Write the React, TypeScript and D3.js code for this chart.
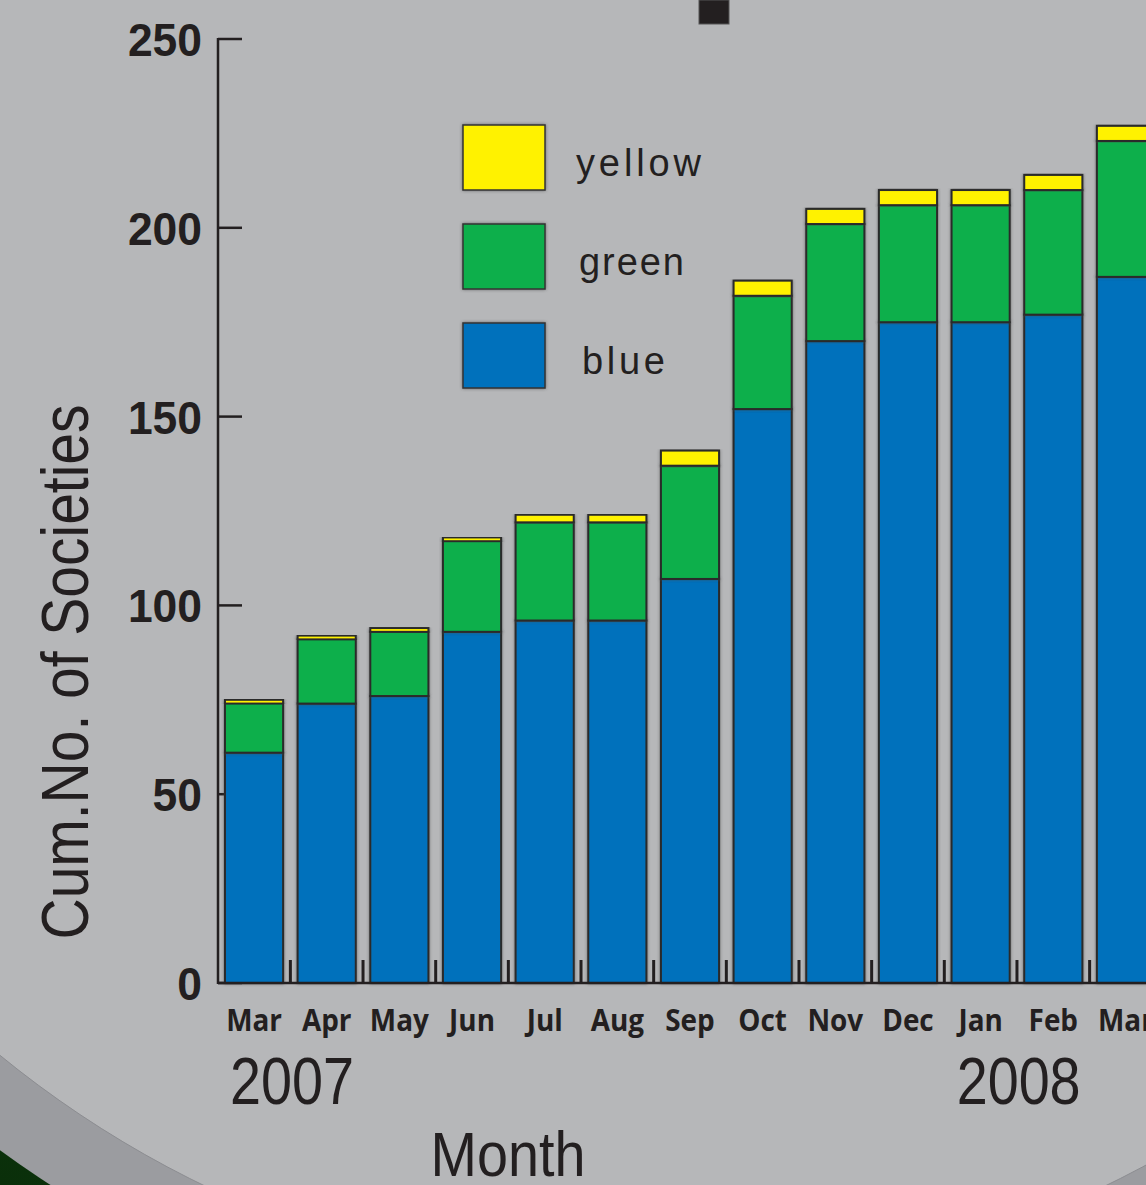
import React from "react";
import * as d3 from "d3";

// data
const months = ["Mar", "Apr", "May", "Jun", "Jul", "Aug", "Sep", "Oct", "Nov", "Dec", "Jan", "Feb", "Mar"];
const blueValues = [61, 74, 76, 93, 96, 96, 107, 152, 170, 175, 175, 177, 187];
const greenValues = [13, 17, 17, 24, 26, 26, 30, 30, 31, 31, 31, 33, 36];
const yellowValues = [1, 1, 1, 1, 2, 2, 4, 4, 4, 4, 4, 4, 4];
const seriesKeys = ["blue", "green", "yellow"];
const legendOrder = ["yellow", "green", "blue"];
const yTicks = [0, 50, 100, 150, 200, 250];
const yearLabels = [
    { label: "2007", index: 0 },
    { label: "2008", index: 10 },
];

const colors: Record<string, string> = {
    blue: "#0071bc",
    green: "#0daf4b",
    yellow: "#fff200",
};

const W = 1146;
const H = 1185;

const App = () => {
    const rows = months.map((m, i) => ({
        key: String(i),
        month: m,
        blue: blueValues[i],
        green: greenValues[i],
        yellow: yellowValues[i],
    }));

    const stacked = d3.stack<any>().keys(seriesKeys)(rows);

    const axisX = 218;
    const x = d3
        .scaleBand<string>()
        .domain(rows.map((r) => r.key))
        .range([axisX, 1162])
        .paddingInner(0.2)
        .paddingOuter(0.096);
    const y = d3.scaleLinear().domain([0, 250]).range([983, 39]);

    const bw = x.bandwidth();
    const gap = x.step() - bw;

    // circle used for the background decoration
    const cx = 655;
    const cy = 254;

    return (
        <svg
            width={W}
            height={H}
            style={{ position: "absolute", left: 0, top: 0, display: "block" }}
        >
            <defs>
                <filter id="halo" x="-10%" y="-10%" width="120%" height="120%">
                    <feDropShadow dx="0" dy="0" stdDeviation="1.4" floodColor="#444" floodOpacity="0.7" />
                </filter>
                <radialGradient id="greenCorner" cx="0" cy="1" r="1">
                    <stop offset="0" stopColor="#0a2f0a" />
                    <stop offset="1" stopColor="#145a18" />
                </radialGradient>
            </defs>

            {/* background */}
            <rect width={W} height={H} fill="url(#greenCorner)" />
            <circle cx={cx} cy={cy} r={1110} fill="#9b9ca0" />
            <circle cx={cx} cy={cy} r={1035} fill="#b6b7b9" stroke="#8c8d91" strokeWidth={1} />
            <rect x={699} y={0} width={30} height={24} fill="#231f20" stroke="#555" strokeWidth={1} />

            {/* y ticks (under the bars) */}
            {yTicks.map((t) => (
                <line
                    key={"yt" + t}
                    x1={axisX}
                    x2={axisX + 24}
                    y1={y(t)}
                    y2={y(t)}
                    stroke="#231f20"
                    strokeWidth={2.5}
                />
            ))}

            {/* bars */}
            {stacked.map((s) => (
                <g key={s.key} fill={colors[s.key]}>
                    {s.map((d, i) => (
                        <rect
                            key={i}
                            x={x(rows[i].key)}
                            y={y(d[1])}
                            width={bw}
                            height={y(d[0]) - y(d[1])}
                            stroke="#2b2b2b"
                            strokeWidth={2}
                            filter="url(#halo)"
                        />
                    ))}
                </g>
            ))}

            {/* small ticks between bars */}
            {rows.slice(1).map((r) => (
                <line
                    key={"bt" + r.key}
                    x1={(x(r.key) as number) - gap / 2}
                    x2={(x(r.key) as number) - gap / 2}
                    y1={960}
                    y2={983}
                    stroke="#231f20"
                    strokeWidth={3}
                />
            ))}

            {/* axes */}
            <line x1={axisX} x2={axisX} y1={y(250) - 1} y2={y(0) + 1} stroke="#231f20" strokeWidth={2.5} />
            <line x1={axisX} x2={W} y1={y(0)} y2={y(0)} stroke="#231f20" strokeWidth={2.5} />

            {/* y tick labels */}
            {yTicks.map((t) => {
                const label = String(t);
                return (
                    <text
                        key={"yl" + t}
                        x={202}
                        y={y(t) + 17}
                        textAnchor="end"
                        fontFamily="'Liberation Sans', Arial, sans-serif"
                        fontWeight="bold"
                        fontSize={47}
                        fill="#231f20"
                        textLength={label.length * 24.7}
                        lengthAdjust="spacingAndGlyphs"
                    >
                        {label}
                    </text>
                );
            })}

            {/* month labels */}
            {rows.map((r) => (
                <text
                    key={"ml" + r.key}
                    transform={`translate(${(x(r.key) as number) + bw / 2},1031) scale(0.9,1)`}
                    textAnchor="middle"
                    fontFamily="'Open Sans', sans-serif"
                    fontWeight="bold"
                    fontSize={31}
                    fill="#231f20"
                >
                    {r.month}
                </text>
            ))}

            {/* years */}
            {yearLabels.map((yl) => (
                <text
                    key={yl.label}
                    x={(x(String(yl.index)) as number) + bw / 2 + 38}
                    y={1104}
                    textAnchor="middle"
                    fontFamily="'Liberation Sans', Arial, sans-serif"
                    fontSize={66}
                    fill="#231f20"
                    textLength={124}
                    lengthAdjust="spacingAndGlyphs"
                >
                    {yl.label}
                </text>
            ))}

            {/* axis titles */}
            <text
                x={508}
                y={1176}
                textAnchor="middle"
                fontFamily="'Liberation Sans', Arial, sans-serif"
                fontSize={63}
                fill="#231f20"
                textLength={155}
                lengthAdjust="spacingAndGlyphs"
            >
                Month
            </text>
            <text
                transform="translate(88,672) rotate(-90)"
                textAnchor="middle"
                fontFamily="'Liberation Sans', Arial, sans-serif"
                fontSize={66}
                fill="#231f20"
                textLength={535}
                lengthAdjust="spacingAndGlyphs"
            >
                Cum.No. of Societies
            </text>

            {/* legend */}
            {legendOrder.map((k, i) => {
                const top = 125 + i * 99;
                return (
                    <g key={"lg" + k}>
                        <rect
                            x={463}
                            y={top}
                            width={82}
                            height={65}
                            fill={colors[k]}
                            stroke="#333"
                            strokeWidth={1.5}
                            filter="url(#halo)"
                        />
                        <text
                            x={576 + i * 3}
                            y={top + 51}
                            fontFamily="'Liberation Sans', Arial, sans-serif"
                            fontSize={38}
                            fill="#231f20"
                            textLength={[125, 105, 83][i]}
                            lengthAdjust="spacing"
                        >
                            {k}
                        </text>
                    </g>
                );
            })}
        </svg>
    );
};

export default App;
